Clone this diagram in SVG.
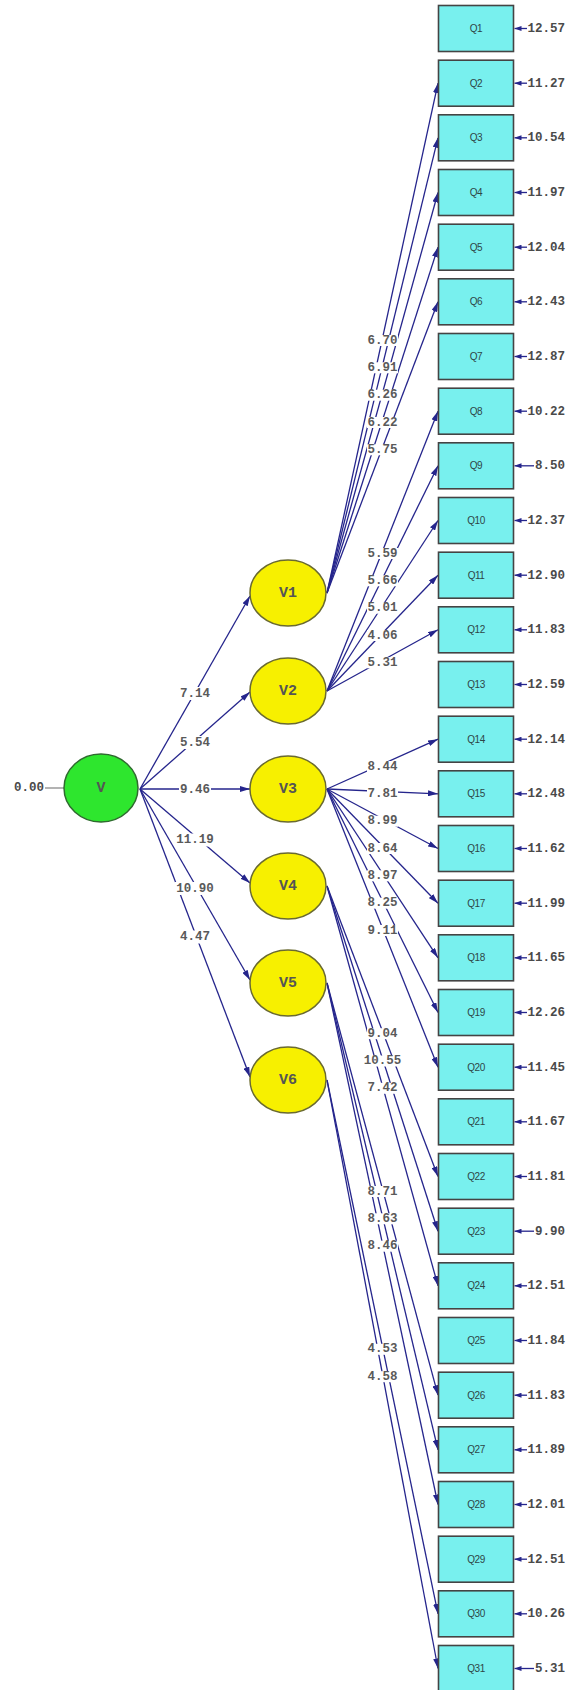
<svg xmlns="http://www.w3.org/2000/svg" width="577" height="1690" viewBox="0 0 577 1690">
  <style>
    .path { stroke: #25258c; stroke-width: 1.3; fill: none; marker-end: url(#ah); }
    .err { stroke: #25258c; stroke-width: 1.3; fill: none; marker-end: url(#eh); }
    .lbg { fill: #ffffff; }
    .lbl { font-family: "Liberation Mono", "DejaVu Sans Mono", monospace; font-size: 12.5px; font-weight: bold; fill: #5a5a5a; text-anchor: middle; dominant-baseline: central; }
    .ev { font-family: "Liberation Mono", "DejaVu Sans Mono", monospace; font-size: 12.5px; font-weight: bold; fill: #4a4a4a; text-anchor: end; dominant-baseline: central; }
    .box { fill: #78f0ee; stroke: #444444; stroke-width: 1.6; }
    .qt { font-family: "Liberation Sans", Arial, sans-serif; font-size: 10px; fill: #2e4646; text-anchor: middle; dominant-baseline: central; letter-spacing: -0.5px; }
    .lat { fill: #f7f000; stroke: #6a6a30; stroke-width: 1.5; }
    .vt { font-family: "Liberation Mono", "DejaVu Sans Mono", monospace; font-size: 15px; font-weight: bold; fill: #555555; text-anchor: middle; dominant-baseline: central; }
  </style>
  <defs>
    <marker id="ah" viewBox="0 0 10 6" refX="10" refY="3" markerWidth="10" markerHeight="6" markerUnits="userSpaceOnUse" orient="auto">
      <path d="M0,0 L10,3 L0,6 z" fill="#25258c"/>
    </marker>
    <marker id="eh" viewBox="0 0 7 5" refX="7" refY="2.5" markerWidth="7" markerHeight="5" markerUnits="userSpaceOnUse" orient="auto">
      <path d="M0,0 L7,2.5 L0,5 z" fill="#25258c"/>
    </marker>
  </defs>
  <rect x="0" y="0" width="577" height="1690" fill="#ffffff"/>

  <g id="connectors">
    <!-- variance of V -->
    <line x1="45" y1="788" x2="64" y2="788" stroke="#8a8a8a" stroke-width="1.3"/>
    <!-- V to the six factors -->
    <line class="path" x1="140" y1="789" x2="250" y2="596"/>
    <line class="path" x1="140" y1="789" x2="250" y2="692"/>
    <line class="path" x1="140" y1="789" x2="250" y2="789"/>
    <line class="path" x1="140" y1="789" x2="250" y2="883"/>
    <line class="path" x1="140" y1="789" x2="250" y2="980"/>
    <line class="path" x1="140" y1="789" x2="250" y2="1077"/>
    <!-- V1 -->
    <line class="path" x1="327" y1="593" x2="438" y2="83.2"/>
    <line class="path" x1="327" y1="593" x2="438" y2="137.8"/>
    <line class="path" x1="327" y1="593" x2="438" y2="192.5"/>
    <line class="path" x1="327" y1="593" x2="438" y2="247.2"/>
    <line class="path" x1="327" y1="593" x2="438" y2="301.8"/>
    <!-- V2 -->
    <line class="path" x1="327" y1="691" x2="438" y2="411.2"/>
    <line class="path" x1="327" y1="691" x2="438" y2="465.8"/>
    <line class="path" x1="327" y1="691" x2="438" y2="520.5"/>
    <line class="path" x1="327" y1="691" x2="438" y2="575.2"/>
    <line class="path" x1="327" y1="691" x2="438" y2="629.8"/>
    <!-- V3 -->
    <line class="path" x1="327" y1="789" x2="438" y2="739.2"/>
    <line class="path" x1="327" y1="789" x2="438" y2="793.8"/>
    <line class="path" x1="327" y1="789" x2="438" y2="848.5"/>
    <line class="path" x1="327" y1="789" x2="438" y2="903.2"/>
    <line class="path" x1="327" y1="789" x2="438" y2="957.8"/>
    <line class="path" x1="327" y1="789" x2="438" y2="1012.5"/>
    <line class="path" x1="327" y1="789" x2="438" y2="1067.2"/>
    <!-- V4 -->
    <line class="path" x1="327" y1="886" x2="438" y2="1176.5"/>
    <line class="path" x1="327" y1="886" x2="438" y2="1231.2"/>
    <line class="path" x1="327" y1="886" x2="438" y2="1285.8"/>
    <!-- V5 -->
    <line class="path" x1="327" y1="983" x2="438" y2="1395.2"/>
    <line class="path" x1="327" y1="983" x2="438" y2="1449.8"/>
    <line class="path" x1="327" y1="983" x2="438" y2="1504.5"/>
    <!-- V6 -->
    <line class="path" x1="327" y1="1080" x2="438" y2="1613.8"/>
    <line class="path" x1="327" y1="1080" x2="438" y2="1668.5"/>

    <!-- error terms -->
    <line class="err" x1="527" y1="28.5" x2="514.5" y2="28.5"/>
    <line class="err" x1="527" y1="83.2" x2="514.5" y2="83.2"/>
    <line class="err" x1="527" y1="137.8" x2="514.5" y2="137.8"/>
    <line class="err" x1="527" y1="192.5" x2="514.5" y2="192.5"/>
    <line class="err" x1="527" y1="247.2" x2="514.5" y2="247.2"/>
    <line class="err" x1="527" y1="301.8" x2="514.5" y2="301.8"/>
    <line class="err" x1="527" y1="356.5" x2="514.5" y2="356.5"/>
    <line class="err" x1="527" y1="411.2" x2="514.5" y2="411.2"/>
    <line class="err" x1="534" y1="465.8" x2="514.5" y2="465.8"/>
    <line class="err" x1="527" y1="520.5" x2="514.5" y2="520.5"/>
    <line class="err" x1="527" y1="575.2" x2="514.5" y2="575.2"/>
    <line class="err" x1="527" y1="629.8" x2="514.5" y2="629.8"/>
    <line class="err" x1="527" y1="684.5" x2="514.5" y2="684.5"/>
    <line class="err" x1="527" y1="739.2" x2="514.5" y2="739.2"/>
    <line class="err" x1="527" y1="793.8" x2="514.5" y2="793.8"/>
    <line class="err" x1="527" y1="848.5" x2="514.5" y2="848.5"/>
    <line class="err" x1="527" y1="903.2" x2="514.5" y2="903.2"/>
    <line class="err" x1="527" y1="957.8" x2="514.5" y2="957.8"/>
    <line class="err" x1="527" y1="1012.5" x2="514.5" y2="1012.5"/>
    <line class="err" x1="527" y1="1067.2" x2="514.5" y2="1067.2"/>
    <line class="err" x1="527" y1="1121.8" x2="514.5" y2="1121.8"/>
    <line class="err" x1="527" y1="1176.5" x2="514.5" y2="1176.5"/>
    <line class="err" x1="534" y1="1231.2" x2="514.5" y2="1231.2"/>
    <line class="err" x1="527" y1="1285.8" x2="514.5" y2="1285.8"/>
    <line class="err" x1="527" y1="1340.5" x2="514.5" y2="1340.5"/>
    <line class="err" x1="527" y1="1395.2" x2="514.5" y2="1395.2"/>
    <line class="err" x1="527" y1="1449.8" x2="514.5" y2="1449.8"/>
    <line class="err" x1="527" y1="1504.5" x2="514.5" y2="1504.5"/>
    <line class="err" x1="527" y1="1559.2" x2="514.5" y2="1559.2"/>
    <line class="err" x1="527" y1="1613.8" x2="514.5" y2="1613.8"/>
    <line class="err" x1="534" y1="1668.5" x2="514.5" y2="1668.5"/>
  </g>

  <g id="path-labels">
    <!-- V to factors -->
    <rect class="lbg" x="179" y="687" width="32" height="13"/><text class="lbl" x="195" y="693.5">7.14</text>
    <rect class="lbg" x="179" y="736" width="32" height="13"/><text class="lbl" x="195" y="742.5">5.54</text>
    <rect class="lbg" x="179" y="783" width="32" height="13"/><text class="lbl" x="195" y="790">9.46</text>
    <rect class="lbg" x="175" y="833.5" width="40" height="13"/><text class="lbl" x="195" y="840">11.19</text>
    <rect class="lbg" x="175" y="882" width="40" height="13"/><text class="lbl" x="195" y="888.5">10.90</text>
    <rect class="lbg" x="179" y="930.5" width="32" height="13"/><text class="lbl" x="195" y="937">4.47</text>
    <!-- V1 -->
    <rect class="lbg" x="367" y="335" width="31" height="11"/><text class="lbl" x="382.5" y="340.6">6.70</text>
    <rect class="lbg" x="367" y="362.3" width="31" height="11"/><text class="lbl" x="382.5" y="367.9">6.91</text>
    <rect class="lbg" x="367" y="389.7" width="31" height="11"/><text class="lbl" x="382.5" y="395.3">6.26</text>
    <rect class="lbg" x="367" y="417" width="31" height="11"/><text class="lbl" x="382.5" y="422.6">6.22</text>
    <rect class="lbg" x="367" y="444.3" width="31" height="11"/><text class="lbl" x="382.5" y="449.9">5.75</text>
    <!-- V2 -->
    <rect class="lbg" x="367" y="548" width="31" height="11"/><text class="lbl" x="382.5" y="553.6">5.59</text>
    <rect class="lbg" x="367" y="575.3" width="31" height="11"/><text class="lbl" x="382.5" y="580.9">5.66</text>
    <rect class="lbg" x="367" y="602.7" width="31" height="11"/><text class="lbl" x="382.5" y="608.3">5.01</text>
    <rect class="lbg" x="367" y="630" width="31" height="11"/><text class="lbl" x="382.5" y="635.6">4.06</text>
    <rect class="lbg" x="367" y="657.3" width="31" height="11"/><text class="lbl" x="382.5" y="662.9">5.31</text>
    <!-- V3 -->
    <rect class="lbg" x="367" y="761" width="31" height="11"/><text class="lbl" x="382.5" y="766.6">8.44</text>
    <rect class="lbg" x="367" y="788.3" width="31" height="11"/><text class="lbl" x="382.5" y="793.9">7.81</text>
    <rect class="lbg" x="367" y="815.7" width="31" height="11"/><text class="lbl" x="382.5" y="821.3">8.99</text>
    <rect class="lbg" x="367" y="843" width="31" height="11"/><text class="lbl" x="382.5" y="848.6">8.64</text>
    <rect class="lbg" x="367" y="870.3" width="31" height="11"/><text class="lbl" x="382.5" y="875.9">8.97</text>
    <rect class="lbg" x="367" y="897.7" width="31" height="11"/><text class="lbl" x="382.5" y="903.3">8.25</text>
    <rect class="lbg" x="367" y="925" width="31" height="11"/><text class="lbl" x="382.5" y="930.6">9.11</text>
    <!-- V4 -->
    <rect class="lbg" x="367" y="1028.2" width="31" height="11"/><text class="lbl" x="382.5" y="1033.8">9.04</text>
    <rect class="lbg" x="363" y="1055.5" width="39" height="11"/><text class="lbl" x="382.5" y="1061.1">10.55</text>
    <rect class="lbg" x="367" y="1082.8" width="31" height="11"/><text class="lbl" x="382.5" y="1088.4">7.42</text>
    <!-- V5 -->
    <rect class="lbg" x="367" y="1186" width="31" height="11"/><text class="lbl" x="382.5" y="1191.6">8.71</text>
    <rect class="lbg" x="367" y="1213.3" width="31" height="11"/><text class="lbl" x="382.5" y="1218.9">8.63</text>
    <rect class="lbg" x="367" y="1240.7" width="31" height="11"/><text class="lbl" x="382.5" y="1246.3">8.46</text>
    <!-- V6 -->
    <rect class="lbg" x="367" y="1343.8" width="31" height="11"/><text class="lbl" x="382.5" y="1349.4">4.53</text>
    <rect class="lbg" x="367" y="1371.2" width="31" height="11"/><text class="lbl" x="382.5" y="1376.8">4.58</text>
  </g>

  <!-- second-order factor -->
  <g id="V">
    <ellipse cx="101" cy="788" rx="37" ry="34" fill="#2ee62e" stroke="#2f6a2f" stroke-width="1.5"/>
    <text class="vt" x="101" y="788">V</text>
    <text class="ev" x="44" y="788">0.00</text>
  </g>

  <!-- first-order factors -->
  <g id="V1"><ellipse class="lat" cx="288" cy="593" rx="38" ry="33"/><text class="vt" x="288" y="593">V1</text></g>
  <g id="V2"><ellipse class="lat" cx="288" cy="691" rx="38" ry="33"/><text class="vt" x="288" y="691">V2</text></g>
  <g id="V3"><ellipse class="lat" cx="288" cy="789" rx="38" ry="33"/><text class="vt" x="288" y="789">V3</text></g>
  <g id="V4"><ellipse class="lat" cx="288" cy="886" rx="38" ry="33"/><text class="vt" x="288" y="886">V4</text></g>
  <g id="V5"><ellipse class="lat" cx="288" cy="983" rx="38" ry="33"/><text class="vt" x="288" y="983">V5</text></g>
  <g id="V6"><ellipse class="lat" cx="288" cy="1080" rx="38" ry="33"/><text class="vt" x="288" y="1080">V6</text></g>

  <!-- observed items -->
  <g id="Q1"><rect class="box" x="438.5" y="5.5" width="75" height="46"/><text class="qt" x="476" y="28.5">Q1</text><text class="ev" x="565" y="29">12.57</text></g>
  <g id="Q2"><rect class="box" x="438.5" y="60.2" width="75" height="46"/><text class="qt" x="476" y="83.2">Q2</text><text class="ev" x="565" y="83.7">11.27</text></g>
  <g id="Q3"><rect class="box" x="438.5" y="114.8" width="75" height="46"/><text class="qt" x="476" y="137.8">Q3</text><text class="ev" x="565" y="138.3">10.54</text></g>
  <g id="Q4"><rect class="box" x="438.5" y="169.5" width="75" height="46"/><text class="qt" x="476" y="192.5">Q4</text><text class="ev" x="565" y="193">11.97</text></g>
  <g id="Q5"><rect class="box" x="438.5" y="224.2" width="75" height="46"/><text class="qt" x="476" y="247.2">Q5</text><text class="ev" x="565" y="247.7">12.04</text></g>
  <g id="Q6"><rect class="box" x="438.5" y="278.8" width="75" height="46"/><text class="qt" x="476" y="301.8">Q6</text><text class="ev" x="565" y="302.3">12.43</text></g>
  <g id="Q7"><rect class="box" x="438.5" y="333.5" width="75" height="46"/><text class="qt" x="476" y="356.5">Q7</text><text class="ev" x="565" y="357">12.87</text></g>
  <g id="Q8"><rect class="box" x="438.5" y="388.2" width="75" height="46"/><text class="qt" x="476" y="411.2">Q8</text><text class="ev" x="565" y="411.7">10.22</text></g>
  <g id="Q9"><rect class="box" x="438.5" y="442.8" width="75" height="46"/><text class="qt" x="476" y="465.8">Q9</text><text class="ev" x="565" y="466.3">8.50</text></g>
  <g id="Q10"><rect class="box" x="438.5" y="497.5" width="75" height="46"/><text class="qt" x="476" y="520.5">Q10</text><text class="ev" x="565" y="521">12.37</text></g>
  <g id="Q11"><rect class="box" x="438.5" y="552.2" width="75" height="46"/><text class="qt" x="476" y="575.2">Q11</text><text class="ev" x="565" y="575.7">12.90</text></g>
  <g id="Q12"><rect class="box" x="438.5" y="606.8" width="75" height="46"/><text class="qt" x="476" y="629.8">Q12</text><text class="ev" x="565" y="630.3">11.83</text></g>
  <g id="Q13"><rect class="box" x="438.5" y="661.5" width="75" height="46"/><text class="qt" x="476" y="684.5">Q13</text><text class="ev" x="565" y="685">12.59</text></g>
  <g id="Q14"><rect class="box" x="438.5" y="716.2" width="75" height="46"/><text class="qt" x="476" y="739.2">Q14</text><text class="ev" x="565" y="739.7">12.14</text></g>
  <g id="Q15"><rect class="box" x="438.5" y="770.8" width="75" height="46"/><text class="qt" x="476" y="793.8">Q15</text><text class="ev" x="565" y="794.3">12.48</text></g>
  <g id="Q16"><rect class="box" x="438.5" y="825.5" width="75" height="46"/><text class="qt" x="476" y="848.5">Q16</text><text class="ev" x="565" y="849">11.62</text></g>
  <g id="Q17"><rect class="box" x="438.5" y="880.2" width="75" height="46"/><text class="qt" x="476" y="903.2">Q17</text><text class="ev" x="565" y="903.7">11.99</text></g>
  <g id="Q18"><rect class="box" x="438.5" y="934.8" width="75" height="46"/><text class="qt" x="476" y="957.8">Q18</text><text class="ev" x="565" y="958.3">11.65</text></g>
  <g id="Q19"><rect class="box" x="438.5" y="989.5" width="75" height="46"/><text class="qt" x="476" y="1012.5">Q19</text><text class="ev" x="565" y="1013">12.26</text></g>
  <g id="Q20"><rect class="box" x="438.5" y="1044.2" width="75" height="46"/><text class="qt" x="476" y="1067.2">Q20</text><text class="ev" x="565" y="1067.7">11.45</text></g>
  <g id="Q21"><rect class="box" x="438.5" y="1098.8" width="75" height="46"/><text class="qt" x="476" y="1121.8">Q21</text><text class="ev" x="565" y="1122.3">11.67</text></g>
  <g id="Q22"><rect class="box" x="438.5" y="1153.5" width="75" height="46"/><text class="qt" x="476" y="1176.5">Q22</text><text class="ev" x="565" y="1177">11.81</text></g>
  <g id="Q23"><rect class="box" x="438.5" y="1208.2" width="75" height="46"/><text class="qt" x="476" y="1231.2">Q23</text><text class="ev" x="565" y="1231.7">9.90</text></g>
  <g id="Q24"><rect class="box" x="438.5" y="1262.8" width="75" height="46"/><text class="qt" x="476" y="1285.8">Q24</text><text class="ev" x="565" y="1286.3">12.51</text></g>
  <g id="Q25"><rect class="box" x="438.5" y="1317.5" width="75" height="46"/><text class="qt" x="476" y="1340.5">Q25</text><text class="ev" x="565" y="1341">11.84</text></g>
  <g id="Q26"><rect class="box" x="438.5" y="1372.2" width="75" height="46"/><text class="qt" x="476" y="1395.2">Q26</text><text class="ev" x="565" y="1395.7">11.83</text></g>
  <g id="Q27"><rect class="box" x="438.5" y="1426.8" width="75" height="46"/><text class="qt" x="476" y="1449.8">Q27</text><text class="ev" x="565" y="1450.3">11.89</text></g>
  <g id="Q28"><rect class="box" x="438.5" y="1481.5" width="75" height="46"/><text class="qt" x="476" y="1504.5">Q28</text><text class="ev" x="565" y="1505">12.01</text></g>
  <g id="Q29"><rect class="box" x="438.5" y="1536.2" width="75" height="46"/><text class="qt" x="476" y="1559.2">Q29</text><text class="ev" x="565" y="1559.7">12.51</text></g>
  <g id="Q30"><rect class="box" x="438.5" y="1590.8" width="75" height="46"/><text class="qt" x="476" y="1613.8">Q30</text><text class="ev" x="565" y="1614.3">10.26</text></g>
  <g id="Q31"><rect class="box" x="438.5" y="1645.5" width="75" height="46"/><text class="qt" x="476" y="1668.5">Q31</text><text class="ev" x="565" y="1669">5.31</text></g>
</svg>
